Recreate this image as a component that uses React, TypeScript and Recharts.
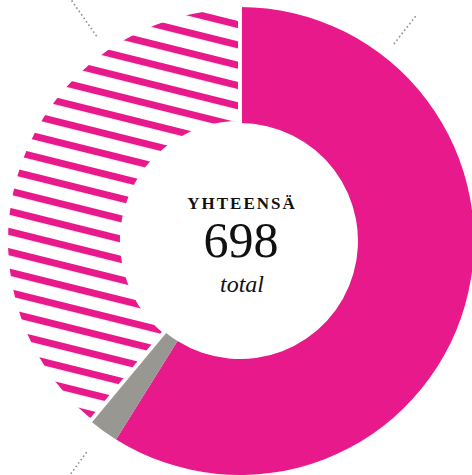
import { PieChart, Pie, Cell } from 'recharts'

// three groups (sum = 698)
const groups = ['Ryhmä 1', 'Ryhmä 2', 'Ryhmä 3']
const counts = [411, 15, 272]
const kinds = ['solid', 'gray', 'hatched']

const totalLabel = 'YHTEENSÄ'
const totalSub = 'total'

// dotted leader lines toward the (cropped) outside labels, degrees clockwise from top
const leaderAngles = [38, 216, 325]
const leaderFrom = [250, 261, 250]
const leaderTo = [287, 300, 300]

const PINK = '#e8198a'
const GRAY = '#999792'
const SERIF = '"Liberation Serif", "DejaVu Serif", serif'
const CX = 240
const CY = 241

const data = groups.map((name, i) => ({ name, value: counts[i], kind: kinds[i] }))
const total = counts.reduce((a, b) => a + b, 0)

const fillFor = (kind: string) => (kind === 'gray' ? GRAY : kind === 'hatched' ? 'url(#hatch)' : PINK)

function Leader(props: any) {
    const { cx, cy, index } = props
    const a = (leaderAngles[index] * Math.PI) / 180
    const r1 = leaderFrom[index]
    const r2 = leaderTo[index]
    return (
        <line
            key={`leader-${index}`}
            x1={cx + r1 * Math.sin(a)}
            y1={cy - r1 * Math.cos(a)}
            x2={cx + r2 * Math.sin(a)}
            y2={cy - r2 * Math.cos(a)}
            stroke="#8f8f8f"
            strokeWidth={1.6}
            strokeDasharray="1.6 2.6"
        />
    )
}

export default function App() {
    return (
        <div style={{ position: 'absolute', left: 0, top: 0, width: 472, height: 475 }}>
            <svg width={0} height={0} style={{ position: 'absolute' }}>
                <defs>
                    <pattern
                        id="hatch"
                        patternUnits="userSpaceOnUse"
                        x={0}
                        y={2.2}
                        width={40}
                        height={19.7}
                        patternTransform="rotate(14)"
                    >
                        <rect width={40} height={19.7} fill="#fff" />
                        <rect y={0} width={40} height={7} fill={PINK} />
                    </pattern>
                </defs>
            </svg>
            <PieChart width={472} height={475} margin={{ top: 0, right: 0, bottom: 0, left: 0 }}>
                <Pie
                    data={data}
                    dataKey="value"
                    cx={CX}
                    cy={CY}
                    innerRadius={118}
                    outerRadius={234}
                    startAngle={90}
                    endAngle={-270}
                    stroke="none"
                    label={Leader}
                    labelLine={false}
                    isAnimationActive={false}
                >
                    {data.map((d, i) => (
                        <Cell
                            key={`cell-${i}`}
                            fill={fillFor(d.kind)}
                            stroke={d.kind === 'hatched' ? '#fff' : 'none'}
                            strokeWidth={d.kind === 'hatched' ? 4 : 0}
                        />
                    ))}
                </Pie>
            </PieChart>
            {/* center text */}
            <svg
                width={472}
                height={475}
                style={{ position: 'absolute', left: 0, top: 0, pointerEvents: 'none' }}
            >
                <g fontFamily={SERIF} textAnchor="middle" fill="#111">
                    <text x={CX + 2} y={CY - 32} fontSize={17} fontWeight={700} letterSpacing={2}>
                        {totalLabel}
                    </text>
                    <text x={CX + 1} y={CY + 16} fontSize={50}>
                        {total}
                    </text>
                    <text x={CX + 2} y={CY + 51} fontSize={24} fontStyle="italic">
                        {totalSub}
                    </text>
                </g>
            </svg>
        </div>
    )
}
